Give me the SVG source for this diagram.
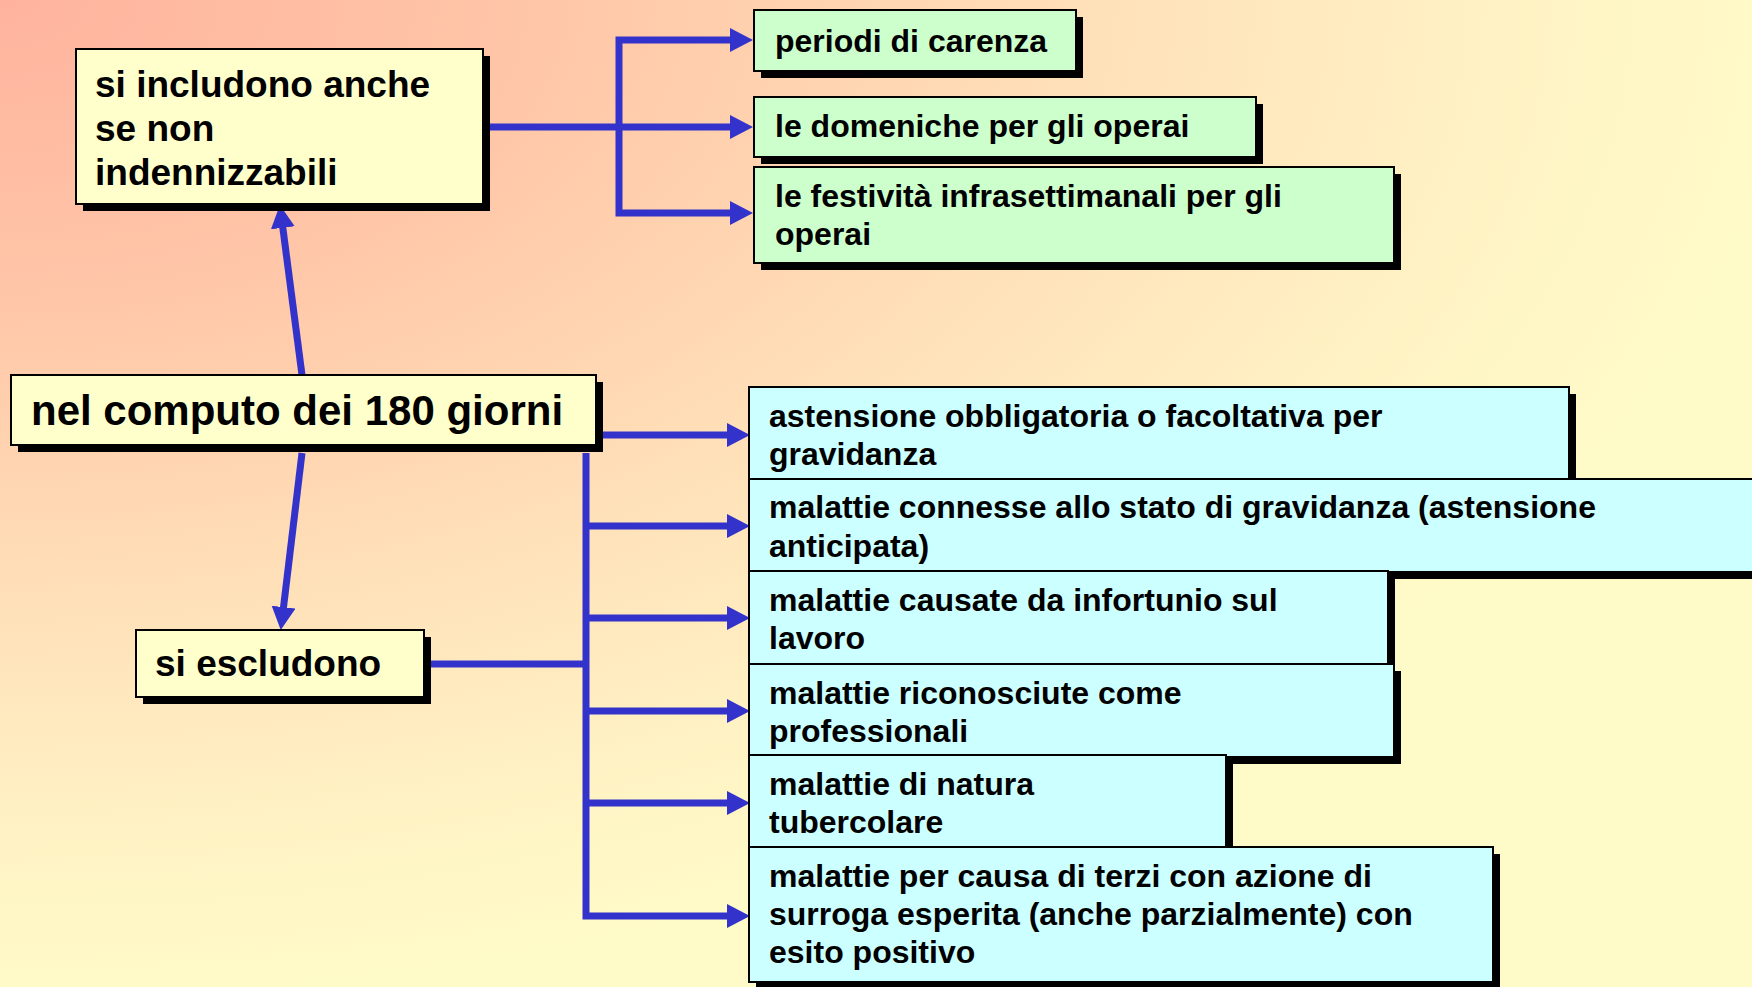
<svg xmlns="http://www.w3.org/2000/svg" width="1752" height="987" viewBox="0 0 1752 987">
<defs>
<radialGradient id="bg" gradientUnits="userSpaceOnUse" cx="0" cy="0" r="1000" gradientTransform="scale(1.8,1)">
<stop offset="0" stop-color="#FFB39E"/>
<stop offset="0.3" stop-color="#FFC6A8"/>
<stop offset="0.6" stop-color="#FFE0B8"/>
<stop offset="0.85" stop-color="#FFF3C4"/>
<stop offset="1" stop-color="#FFFBC8"/>
</radialGradient>
<marker id="ah" markerUnits="userSpaceOnUse" markerWidth="23" markerHeight="24" viewBox="0 -12 23 24" refX="1" refY="0" orient="auto">
<path d="M0,-12 L23,0 L0,12 z" fill="#3333CC"/>
</marker>
</defs>
<style>
.sh{fill:#000}
.bx{stroke:#000;stroke-width:2}
.y{fill:#FFFFCC}
.g{fill:#CCFFCC}
.c{fill:#CCFFFF}
.t{font-family:"Liberation Sans",Arial,Helvetica,sans-serif;font-weight:bold;fill:#000}
.t32{font-size:32px}
.t37{font-size:37px}
.t42{font-size:42px}
.cn{fill:none;stroke:#3333CC;stroke-width:7;stroke-linejoin:miter}
.ar{marker-end:url(#ah)}
</style>
<rect width="1752" height="987" fill="url(#bg)"/>
<g id="connectors">
<path class="cn ar" d="M484,127 H731"/>
<path class="cn ar" d="M619,127 V40 H731"/>
<path class="cn ar" d="M619,127 V213 H731"/>
<path class="cn ar" d="M302,375 L282.7,226.8"/>
<path class="cn ar" d="M302,453 L283.4,608.1"/>
<path class="cn ar" d="M597,435 H728"/>
<path class="cn" d="M425,664 H586"/>
<path class="cn ar" d="M586,453 V916 H728"/>
<path class="cn ar" d="M586,526 H728"/>
<path class="cn ar" d="M586,618 H728"/>
<path class="cn ar" d="M586,711 H728"/>
<path class="cn ar" d="M586,803 H728"/>
</g>
<g id="node-includono">
<rect class="sh" x="83" y="56" width="407" height="155"/>
<rect class="bx y" x="76" y="49" width="407" height="155"/>
<text class="t t37" x="95" y="97">si includono anche</text>
<text class="t t37" x="95" y="141">se non</text>
<text class="t t37" x="95" y="185">indennizzabili</text>
</g>
<g id="node-computo">
<rect class="sh" x="18" y="382" width="585" height="70"/>
<rect class="bx y" x="11" y="375" width="585" height="70"/>
<text class="t t42" x="31" y="425">nel computo dei 180 giorni</text>
</g>
<g id="node-escludono">
<rect class="sh" x="143" y="637" width="288" height="67"/>
<rect class="bx y" x="136" y="630" width="288" height="67"/>
<text class="t t37" x="155" y="676">si escludono</text>
</g>
<g id="node-carenza">
<rect class="sh" x="761" y="17" width="322" height="61"/>
<rect class="bx g" x="754" y="10" width="322" height="61"/>
<text class="t t32" x="775" y="52">periodi di carenza</text>
</g>
<g id="node-domeniche">
<rect class="sh" x="761" y="104" width="502" height="60"/>
<rect class="bx g" x="754" y="97" width="502" height="60"/>
<text class="t t32" x="775" y="137">le domeniche per gli operai</text>
</g>
<g id="node-festivita">
<rect class="sh" x="761" y="174" width="640" height="96"/>
<rect class="bx g" x="754" y="167" width="640" height="96"/>
<text class="t t32" x="775" y="207">le festività infrasettimanali per gli</text>
<text class="t t32" x="775" y="245">operai</text>
</g>
<g id="node-astensione">
<rect class="sh" x="756" y="394" width="820" height="92"/>
<rect class="bx c" x="749" y="387" width="820" height="92"/>
<text class="t t32" x="769" y="427">astensione obbligatoria o facoltativa per</text>
<text class="t t32" x="769" y="465">gravidanza</text>
</g>
<g id="node-connesse">
<rect class="sh" x="756" y="486" width="1020" height="93"/>
<rect class="bx c" x="749" y="479" width="1020" height="93"/>
<text class="t t32" x="769" y="518">malattie connesse allo stato di gravidanza (astensione</text>
<text class="t t32" x="769" y="557">anticipata)</text>
</g>
<g id="node-infortunio">
<rect class="sh" x="756" y="578" width="639" height="93"/>
<rect class="bx c" x="749" y="571" width="639" height="93"/>
<text class="t t32" x="769" y="611">malattie causate da infortunio sul</text>
<text class="t t32" x="769" y="649">lavoro</text>
</g>
<g id="node-professionali">
<rect class="sh" x="756" y="671" width="645" height="93"/>
<rect class="bx c" x="749" y="664" width="645" height="93"/>
<text class="t t32" x="769" y="704">malattie riconosciute come</text>
<text class="t t32" x="769" y="742">professionali</text>
</g>
<g id="node-tubercolare">
<rect class="sh" x="756" y="762" width="477" height="93"/>
<rect class="bx c" x="749" y="755" width="477" height="93"/>
<text class="t t32" x="769" y="795">malattie di natura</text>
<text class="t t32" x="769" y="833">tubercolare</text>
</g>
<g id="node-terzi">
<rect class="sh" x="756" y="854" width="744" height="135"/>
<rect class="bx c" x="749" y="847" width="744" height="135"/>
<text class="t t32" x="769" y="887">malattie per causa di terzi con azione di</text>
<text class="t t32" x="769" y="925">surroga esperita (anche parzialmente) con</text>
<text class="t t32" x="769" y="963">esito positivo</text>
</g>
</svg>
